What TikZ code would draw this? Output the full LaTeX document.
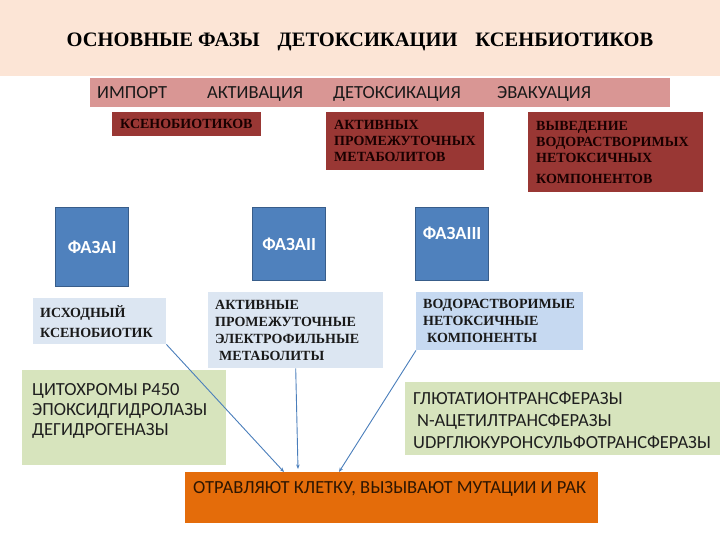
\documentclass[tikz,border=0pt]{standalone}
\usepackage{fontspec}
\setmainfont{Liberation Serif}
\newfontfamily\calib{Carlito}
\usetikzlibrary{arrows.meta, positioning}

\definecolor{peach}{RGB}{252,229,214}
\definecolor{rosebar}{RGB}{217,150,148}
\definecolor{brickred}{RGB}{153,55,52}
\definecolor{phaseblue}{RGB}{79,129,189}
\definecolor{phaseedge}{RGB}{56,93,138}
\definecolor{paleblue}{RGB}{220,230,242}
\definecolor{skyblue}{RGB}{198,217,241}
\definecolor{sage}{RGB}{215,228,189}
\definecolor{rust}{RGB}{228,108,10}
\definecolor{wire}{RGB}{74,126,187}

\tikzset{
  brickbox/.style={fill=brickred, anchor=north west, align=left, inner xsep=8pt,
                   inner ysep=0pt, font=\fontsize{14}{16}\selectfont\bfseries, text=black!90!red},
  phasebox/.style={fill=phaseblue, draw=phaseedge, line width=1.2pt, anchor=north west,
                   minimum width=73, minimum height=73, inner sep=0pt,
                   font=\calib\bfseries\fontsize{18.5}{20}\selectfont, text=white},
  stagelabel/.style={anchor=base west, inner sep=0pt, font=\calib\fontsize{18.5}{20}\selectfont, text=black!90},
  startbox/.style={anchor=north west, align=left, inner xsep=7pt, inner ysep=0pt,
                   font=\fontsize{14}{17}\selectfont\bfseries, text=black!90},
  sagebox/.style={fill=sage, anchor=north west, inner sep=0pt},
  enzlabel/.style={align=left, inner sep=0pt, font=\calib\fontsize{18.5}{20}\selectfont, text=black!88},
  wire/.style={draw=wire, line width=0.9pt, -{Stealth[length=4.5pt, width=3.5pt]}}
}

\begin{document}
\begin{tikzpicture}[x=1pt, y=-1pt]
  \useasboundingbox (0,0) rectangle (720,540);

  % title band
  \node[fill=peach, anchor=north west, minimum width=720, minimum height=76, inner sep=0pt] (header) at (0,0) {};
  \node[font=\fontsize{20.5}{22}\selectfont\bfseries, inner sep=0pt] (title) at (360,42)
       {ОСНОВНЫЕ ФАЗЫ\hspace{18pt}ДЕТОКСИКАЦИИ\hspace{18pt}КСЕНБИОТИКОВ};

  % stages
  \node[fill=rosebar, anchor=north west, minimum width=580, minimum height=29, inner sep=0pt] (stagebar) at (90,78) {};
  \node[stagelabel] (import) at (97,99) {ИМПОРТ};
  \node[stagelabel] (activ) at (207,99) {АКТИВАЦИЯ};
  \node[stagelabel] (detox) at (333,99) {ДЕТОКСИКАЦИЯ};
  \node[stagelabel] (evac) at (497,99) {ЭВАКУАЦИЯ};

  \node[brickbox, text width=133, minimum height=24] (xenored) at (112,112) {КСЕНОБИОТИКОВ};
  \node[brickbox, text width=142, minimum height=58] (metared) at (326,112)
       {АКТИВНЫХ\\ПРОМЕЖУТОЧНЫХ\\МЕТАБОЛИТОВ};
  \node[brickbox, text width=159, minimum height=80] (outred) at (528,112)
       {ВЫВЕДЕНИЕ\\ВОДОРАСТВОРИМЫХ\\НЕТОКСИЧНЫХ\\[5pt]КОМПОНЕНТОВ};

  % phases
  \node[phasebox, minimum height=79] (phaseI) at (55,207) {ФАЗАI};
  \node[phasebox] (phaseII) at (252,207) {ФАЗАII};
  \node[phasebox, label={[text=white, font=\calib\bfseries\fontsize{18.5}{20}\selectfont, anchor=north, yshift=-16pt]north:ФАЗАIII}] (phaseIII) at (415,207) {};

  \node[startbox, fill=paleblue, text width=119, minimum height=46, font=\fontsize{14}{20}\selectfont\bfseries] (srcbox) at (33,298)
       {ИСХОДНЫЙ\\КСЕНОБИОТИК};
  \node[startbox, fill=paleblue, text width=161, minimum height=76] (midbox) at (208,292)
       {АКТИВНЫЕ\\ПРОМЕЖУТОЧНЫЕ\\ЭЛЕКТРОФИЛЬНЫЕ\\\hspace*{4pt}МЕТАБОЛИТЫ};
  \node[startbox, fill=skyblue, text width=153, minimum height=58] (endbox) at (416,292)
       {ВОДОРАСТВОРИМЫЕ\\НЕТОКСИЧНЫЕ\\\hspace*{4pt}КОМПОНЕНТЫ};

  % enzymes
  \node[sagebox, minimum width=204, minimum height=95] (enzI) at (22,370) {};
  \node[enzlabel, anchor=north west] (enzItext) at (32,383)
       {ЦИТОХРОМЫ P450\\ЭПОКСИДГИДРОЛАЗЫ\\ДЕГИДРОГЕНАЗЫ};
  \node[sagebox, minimum width=315, minimum height=73] (enzII) at (405,382) {};
  \node[enzlabel, anchor=west, font=\calib\fontsize{18.5}{22}\selectfont] (enzIItext) at (413,420)
       {ГЛЮТАТИОНТРАНСФЕРАЗЫ\\\hspace*{4pt}N-АЦЕТИЛТРАНСФЕРАЗЫ\\UDPГЛЮКУРОНСУЛЬФОТРАНСФЕРАЗЫ};

  % outcome
  \node[fill=rust, anchor=north west, minimum width=413, minimum height=51, inner sep=0pt] (poison) at (185,472) {};
  \node[anchor=base west, inner sep=0pt, font=\calib\fontsize{18.5}{20}\selectfont, text=black!80!rust] (poisontext) at (193,493)
       {ОТРАВЛЯЮТ КЛЕТКУ, ВЫЗЫВАЮТ МУТАЦИИ И РАК};

  \coordinate (hitA) at (284,472);
  \coordinate (hitB) at (298,469);
  \coordinate (hitC) at (339,472);
  \draw[wire] (srcbox.south east) -- (hitA);
  \draw[wire] (midbox.south) -- (hitB);
  \draw[wire] (endbox.south west) -- (hitC);
\end{tikzpicture}
\end{document}
